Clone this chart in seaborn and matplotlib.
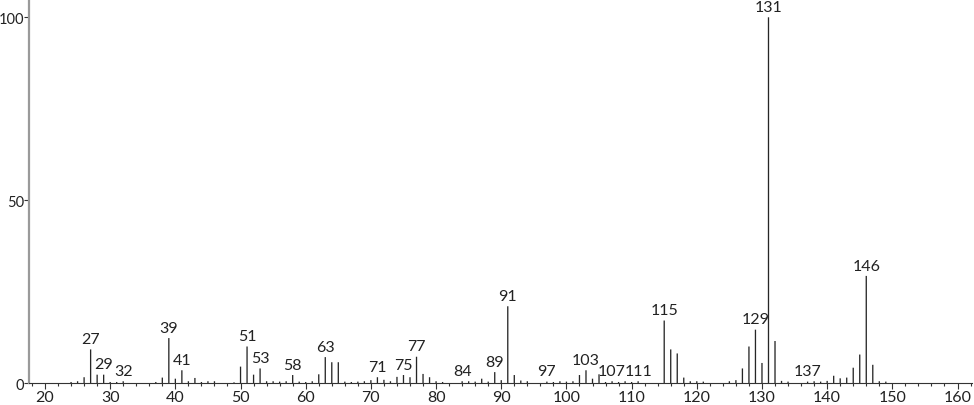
import numpy as np
import pandas as pd
import matplotlib
matplotlib.use("Agg")
import matplotlib.pyplot as plt
import seaborn as sns
from matplotlib.ticker import MultipleLocator

# m/z values and relative intensities
mz = [24, 25, 26, 27, 28, 29, 30, 31, 32, 37, 38, 39, 40, 41, 42, 43, 44, 45, 46, 49,
      50, 51, 52, 53, 54, 55, 56, 57, 58, 59, 60, 61, 62, 63, 64, 65, 66, 67, 68, 69,
      70, 71, 72, 73, 74, 75, 76, 77, 78, 79, 80, 81, 84, 85, 86, 87, 88, 89, 90, 91,
      92, 93, 94, 97, 98, 99, 100, 101, 102, 103, 104, 105, 106, 107, 108, 109, 110, 111,
      115, 116, 117, 118, 119, 120, 121, 125, 126, 127, 128, 129, 130, 131, 132, 133, 134,
      137, 138, 139, 140, 141, 142, 143, 144, 145, 146, 147, 148, 149]
intensity = [0.3, 0.5, 1.6, 9.2, 2.3, 2.3, 0.3, 0.3, 0.5, 0.3, 1.5, 12.3, 1.2, 3.5, 0.5, 1.4, 0.3, 0.5, 0.5, 0.2,
             4.5, 10.0, 2.3, 4.0, 0.5, 0.5, 0.4, 0.5, 2.2, 0.4, 0.3, 0.5, 2.4, 7.1, 5.7, 5.7, 0.4, 0.3, 0.4, 0.5,
             0.8, 1.6, 0.9, 0.5, 1.7, 2.2, 1.6, 7.2, 2.5, 1.6, 0.5, 0.3, 0.5, 0.5, 0.4, 1.2, 0.4, 3.0, 0.8, 21.0,
             2.2, 0.7, 0.5, 0.4, 0.3, 0.5, 0.4, 0.5, 2.2, 3.5, 1.2, 2.4, 0.3, 0.5, 0.3, 0.5, 0.3, 0.5,
             17.1, 9.2, 8.1, 1.5, 0.5, 0.5, 0.4, 0.5, 0.8, 4.0, 10.0, 14.6, 5.5, 100.0, 11.5, 0.6, 0.4,
             0.4, 0.5, 0.4, 0.6, 2.0, 1.3, 1.5, 4.2, 7.8, 29.3, 5.0, 0.5, 0.4]
labeled = [27, 29, 32, 39, 41, 51, 53, 58, 63, 71, 75, 77, 84, 89, 91, 97, 103, 107, 111,
           115, 129, 131, 137, 146]

df = pd.DataFrame({"mz": mz, "intensity": intensity})

sns.set_style("white")
plt.rcParams["font.family"] = ["Lato", "DejaVu Sans"]

fig = plt.figure(figsize=(9.74, 4.06), dpi=100)
ax = fig.add_axes([0.0298, 0.054, 0.968, 0.946])

sns.histplot(data=df, x="mz", weights="intensity", discrete=True, shrink=0.2,
             color="#262626", alpha=1, linewidth=0, ax=ax)
for p in ax.patches:
    p.set_snap(False)

lookup = dict(zip(mz, intensity))
for m in labeled:
    ax.text(m, lookup[m] + 0.9, str(m), ha="center", va="bottom", fontsize=11.5,
            color="#222222")

ax.set_xlim(17.55, 162.2)
ax.set_ylim(0, 105)
ax.set_xticks(range(20, 161, 10))
ax.xaxis.set_minor_locator(MultipleLocator(2))
ax.set_yticks([0, 50, 100])
ax.set_xlabel("")
ax.set_ylabel("")
ax.tick_params(axis="x", which="major", direction="out", length=4, width=0.8, color="#333333",
               labelsize=11.5, pad=1, bottom=True, labelcolor="#222222")
ax.tick_params(axis="x", which="minor", direction="out", length=2.5, width=0.8, color="#333333",
               bottom=True)
ax.tick_params(axis="y", which="major", direction="out", length=3.5, width=0.8, color="#333333",
               labelsize=10.5, pad=0, left=True, labelcolor="#222222")

for s in ["top", "right"]:
    ax.spines[s].set_visible(False)
ax.spines["left"].set_color("#9a9a9a")
ax.spines["left"].set_linewidth(1.6)
ax.spines["bottom"].set_color("#333333")
ax.spines["bottom"].set_linewidth(0.8)

fig.savefig("out.png", dpi=100)
